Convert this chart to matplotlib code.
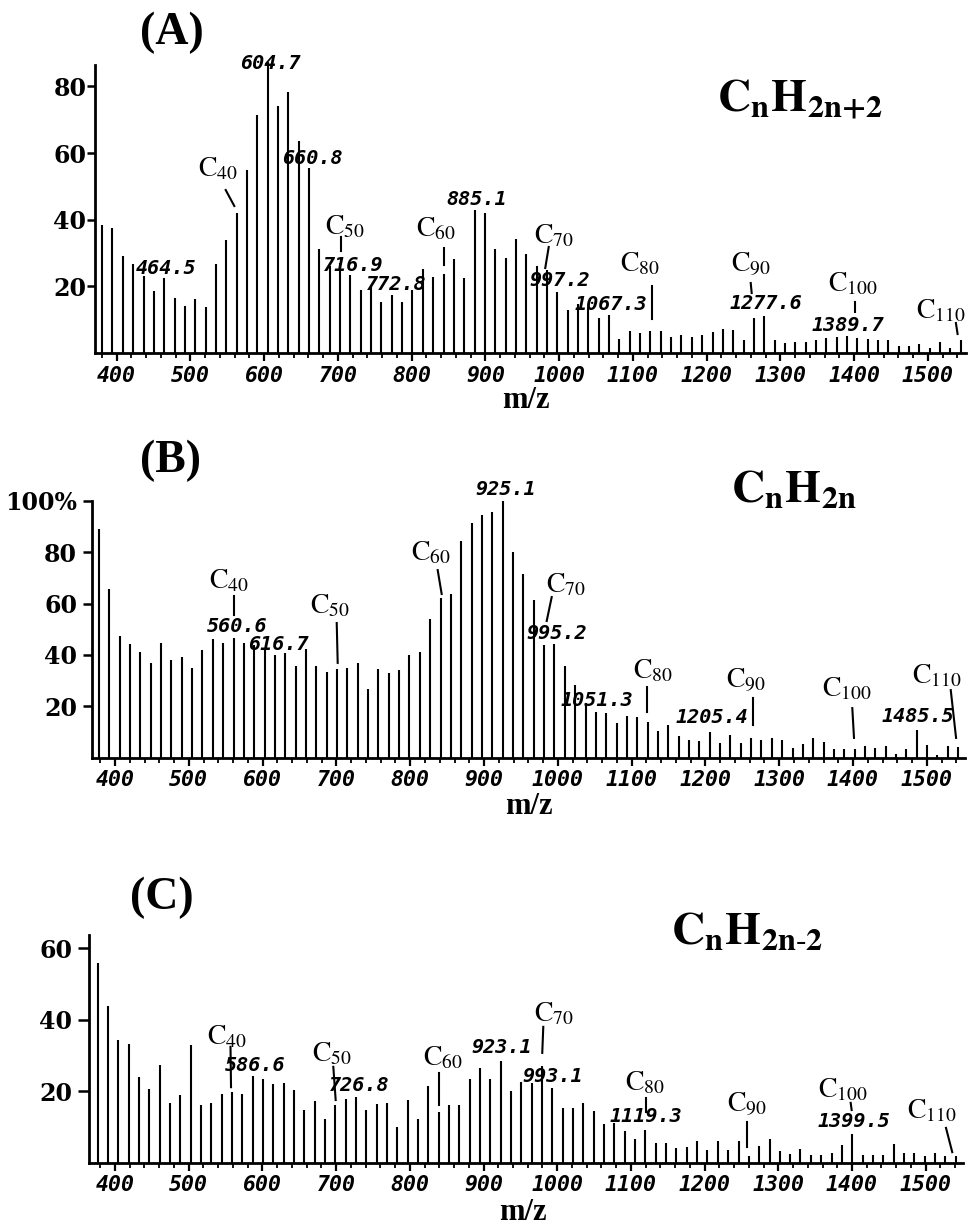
import matplotlib
matplotlib.use("Agg")
import matplotlib.pyplot as plt
from matplotlib.ticker import MultipleLocator
from matplotlib.font_manager import FontProperties

plt.rcParams['mathtext.fontset'] = 'stix'

# ---------------- data ----------------
mz_A = [380.3, 394.3, 408.4, 422.4, 436.4, 450.4, 464.5, 478.5, 492.5, 506.5,
        520.6, 534.6, 548.6, 562.7, 576.7, 590.7, 604.7, 618.8, 632.8, 646.8,
        660.8, 674.9, 688.9, 702.9, 717.0, 731.0, 745.0, 759.0, 773.1, 787.1,
        801.1, 815.1, 829.2, 843.2, 857.2, 871.2, 885.3, 899.3, 913.3, 927.3,
        941.4, 955.4, 969.4, 983.5, 997.5, 1011.5, 1025.5, 1039.6, 1053.6, 1067.6,
        1081.6, 1095.7, 1109.7, 1123.7, 1137.8, 1151.8, 1165.8, 1179.8, 1193.9, 1207.9,
        1221.9, 1235.9, 1250.0, 1264.0, 1278.0, 1292.1, 1306.1, 1320.1, 1334.1, 1348.2,
        1362.2, 1376.2, 1390.2, 1404.3, 1418.3, 1432.3, 1446.3, 1460.4, 1474.4, 1488.4,
        1502.5, 1516.5, 1530.5, 1544.5]
int_A = [38.5, 37.5, 29.0, 26.7, 23.0, 18.5, 22.5, 16.5, 14.2, 16.2,
         13.8, 26.7, 33.8, 42.0, 54.8, 71.4, 87.4, 74.2, 78.2, 63.5,
         55.5, 31.2, 26.2, 27.0, 23.3, 18.8, 20.5, 15.3, 17.3, 15.3,
         18.8, 25.2, 22.8, 23.8, 28.3, 22.6, 43.0, 42.0, 31.3, 28.6,
         34.2, 29.6, 26.0, 25.0, 18.3, 13.0, 14.8, 13.8, 10.6, 11.3,
         4.2, 6.5, 6.0, 6.5, 6.7, 4.8, 5.4, 4.8, 5.4, 6.3,
         7.2, 7.0, 4.0, 10.5, 11.2, 3.8, 3.0, 3.2, 3.4, 4.0,
         4.5, 4.8, 5.0, 4.5, 4.2, 4.0, 3.8, 2.2, 2.2, 2.6,
         1.5, 3.2, 1.5, 4.0]

mz_B = [378.2, 392.2, 406.3, 420.3, 434.3, 448.3, 462.4, 476.4, 490.4, 504.4,
        518.5, 532.5, 546.5, 560.6, 574.6, 588.6, 602.6, 616.7, 630.7, 644.7,
        658.7, 672.8, 686.8, 700.8, 714.9, 728.9, 742.9, 756.9, 771.0, 785.0,
        799.0, 813.0, 827.1, 841.1, 855.1, 869.1, 883.2, 897.2, 911.2, 925.2,
        939.3, 953.3, 967.3, 981.4, 995.4, 1009.4, 1023.4, 1037.5, 1051.5, 1065.5,
        1079.5, 1093.6, 1107.6, 1121.6, 1135.7, 1149.7, 1163.7, 1177.7, 1191.8, 1205.8,
        1219.8, 1233.8, 1247.9, 1261.9, 1275.9, 1290.0, 1304.0, 1318.0, 1332.0, 1346.1,
        1360.1, 1374.1, 1388.1, 1402.2, 1416.2, 1430.2, 1444.2, 1458.3, 1472.3, 1486.3,
        1500.4, 1514.4, 1528.4, 1542.4]
int_B = [89.1, 65.6, 47.4, 44.4, 41.2, 36.8, 44.8, 37.9, 39.0, 34.8,
         41.8, 46.2, 44.5, 46.5, 44.8, 43.9, 42.6, 40.0, 40.9, 35.5,
         42.2, 35.5, 33.5, 34.5, 35.0, 37.0, 26.9, 34.5, 32.9, 34.2,
         39.9, 41.0, 53.8, 62.0, 63.8, 84.5, 91.3, 94.5, 95.6, 100.0,
         79.9, 71.6, 61.2, 43.8, 44.3, 35.7, 28.2, 21.2, 17.7, 17.3,
         13.4, 16.4, 16.0, 14.0, 10.5, 12.6, 8.5, 7.0, 6.5, 10.0,
         5.8, 8.9, 5.8, 7.8, 7.0, 7.8, 6.8, 3.9, 5.2, 7.8,
         6.0, 3.5, 3.5, 3.2, 4.5, 3.9, 4.5, 1.5, 3.2, 10.6,
         5.0, 1.0, 4.5, 4.2]

mz_C = [376.3, 390.3, 404.4, 418.4, 432.4, 446.4, 460.5, 474.5, 488.5, 502.5,
        516.6, 530.6, 544.6, 558.7, 572.7, 586.7, 600.7, 614.8, 628.8, 642.8,
        656.8, 670.9, 684.9, 698.9, 713.0, 727.0, 741.0, 755.0, 769.1, 783.1,
        797.1, 811.1, 825.2, 839.2, 853.2, 867.2, 881.3, 895.3, 909.3, 923.3,
        937.4, 951.4, 965.4, 979.5, 993.5, 1007.5, 1021.5, 1035.6, 1049.6, 1063.6,
        1077.6, 1091.7, 1105.7, 1119.7, 1133.8, 1147.8, 1161.8, 1175.8, 1189.9, 1203.9,
        1217.9, 1231.9, 1246.0, 1260.0, 1274.0, 1288.1, 1302.1, 1316.1, 1330.1, 1344.2,
        1358.2, 1372.2, 1386.2, 1400.3, 1414.3, 1428.3, 1442.3, 1456.4, 1470.4, 1484.4,
        1498.5, 1512.5, 1526.5, 1540.5]
int_C = [55.8, 43.7, 34.3, 33.2, 23.9, 20.6, 27.3, 16.7, 18.8, 32.9,
         16.2, 16.7, 19.1, 19.7, 19.1, 24.2, 23.3, 22.0, 22.2, 20.2,
         14.8, 17.1, 12.2, 16.2, 17.9, 18.3, 14.7, 16.3, 16.6, 10.0,
         17.4, 12.3, 21.4, 14.1, 16.1, 16.0, 23.4, 26.4, 23.4, 28.4,
         20.1, 22.5, 22.3, 27.0, 20.9, 15.3, 15.3, 16.7, 14.4, 10.7,
         11.0, 8.7, 6.7, 9.0, 5.4, 5.4, 4.2, 4.4, 5.9, 3.4,
         5.9, 3.5, 6.0, 1.7, 4.7, 6.5, 3.1, 2.3, 3.7, 2.0,
         2.0, 2.8, 4.9, 7.9, 2.0, 2.0, 2.0, 5.3, 2.6, 2.6,
         1.9, 2.8, 1.9, 1.7]

xtick_vals = [400, 500, 600, 700, 800, 900, 1000, 1100, 1200, 1300, 1400, 1500]
xtick_labels = [str(v) for v in xtick_vals]

ytick_A = [20, 40, 60, 80]
ytick_B = [20, 40, 60, 80, 100]
ytick_B_labels = ['20', '40', '60', '80', '100%']
ytick_C = [20, 40, 60]

panel_labels = ['(A)', '(B)', '(C)']
formulas = [r'$\mathbf{C_{n}H_{2n{+}2}}$', r'$\mathbf{C_{n}H_{2n}}$', r'$\mathbf{C_{n}H_{2n\text{-}2}}$']

# peak labels: (text, x, y) in data coords
peaks_A = [('604.7', 609, 86.9), ('660.8', 665.5, 58.5), ('464.5', 467.5, 25.5),
           ('716.9', 720.4, 26.4), ('772.8', 778.7, 20.7), ('885.1', 888.6, 46.2),
           ('997.2', 1001.1, 21.9), ('1067.3', 1070.3, 14.7), ('1277.6', 1280.4, 15.0),
           ('1389.7', 1391.6, 8.4)]
peaks_B = [('560.6', 565.3, 51.2), ('616.7', 620.8, 43.9), ('925.1', 929.8, 104.2),
           ('995.2', 998.9, 48.5), ('1051.3', 1053.1, 22.1), ('1205.4', 1208.9, 15.8),
           ('1485.5', 1488.1, 16.2)]
peaks_C = [('586.6', 590, 27.3), ('726.8', 731.1, 21.5), ('923.1', 925.1, 32.1),
           ('993.1', 994.3, 24.2), ('1119.3', 1120.5, 13.0), ('1399.5', 1402.7, 11.6)]

# carbon-number markers: (n, text x, text y, line x1, y1, x2, y2)
cmark_A = [(40, 537.4, 55.5, 547.8, 48.9, 559.5, 44.1),
           (50, 709.6, 38.1, 703.7, 34.8, 703.7, 30.6),
           (60, 833.0, 37.5, 843.4, 31.5, 843.4, 26.4),
           (70, 993.0, 35.4, 985.8, 31.8, 981.1, 25.5),
           (80, 1109.6, 27.0, 1125.4, 20.1, 1125.4, 10.2),
           (90, 1260.1, 26.7, 1259.7, 21.0, 1261.0, 18.0),
           (100, 1398.4, 21.0, 1401.7, 15.3, 1401.7, 12.3),
           (110, 1517.7, 12.9, 1537.9, 9.0, 1540.2, 5.7)]
cmark_B = [(40, 554.4, 69.1, 561.6, 62.9, 561.6, 55.5),
           (50, 691.3, 59.4, 700.4, 52.4, 701.7, 36.9),
           (60, 828.2, 79.7, 837.2, 73.0, 842.6, 63.7),
           (70, 1011.1, 67.6, 991.7, 62.5, 984.9, 53.2),
           (80, 1129.0, 34.1, 1121.3, 27.5, 1121.3, 17.8),
           (90, 1255.0, 30.2, 1264.9, 23.2, 1264.9, 12.7),
           (100, 1391.8, 27.1, 1399.0, 19.3, 1401.3, 7.7),
           (110, 1513.8, 32.2, 1532.4, 26.3, 1539.6, 7.7)]
cmark_C = [(40, 552.0, 35.4, 556.7, 32.4, 557.4, 21.1),
           (50, 694.4, 30.7, 696.2, 26.8, 699.4, 17.5),
           (60, 845.0, 29.3, 839.6, 25.1, 839.6, 16.1),
           (70, 995.6, 41.9, 981.1, 38.0, 979.7, 30.7),
           (80, 1119.1, 22.5, 1120.0, 18.1, 1120.0, 14.1),
           (90, 1257.5, 16.4, 1257.1, 11.3, 1257.1, 4.4),
           (100, 1387.8, 20.6, 1398.2, 16.7, 1399.5, 14.7),
           (110, 1508.5, 14.7, 1527.5, 9.7, 1536.0, 2.9)]

# ---------------- layout ----------------
W, H = 968, 1228
fig = plt.figure(figsize=(W / 100, H / 100), dpi=100)

def fx(px):
    return px / W

def fy(py):
    return 1 - py / H

panels = [
    dict(mz=mz_A, inten=int_A, left=95, right=966, base=353, ppu=3.333, ytop=86.4,
         xlim=(370.6, 1551.6), yt=ytick_A, ytl=[str(v) for v in ytick_A],
         ylen=8, ypad=0.5, peaks=peaks_A, cm=cmark_A,
         lab_xy=(172, 33), form_xy=(800, 99), mz_xy=(526, 401)),
    dict(mz=mz_B, inten=int_B, left=91.7, right=965, base=757.7, ppu=2.57, ytop=100,
         xlim=(368.4, 1551.7), yt=ytick_B, ytl=ytick_B_labels,
         ylen=9, ypad=4, peaks=peaks_B, cm=cmark_B,
         lab_xy=(171, 461), form_xy=(794, 490), mz_xy=(529, 807)),
    dict(mz=mz_C, inten=int_C, left=89, right=963.3, base=1162.5, ppu=3.57, ytop=63.7,
         xlim=(364.7, 1551.0), yt=ytick_C, ytl=[str(v) for v in ytick_C],
         ylen=11, ypad=4, peaks=peaks_C, cm=cmark_C,
         lab_xy=(162, 898), form_xy=(747, 932), mz_xy=(523, 1213)),
]

xtick_fp = FontProperties(family='DejaVu Sans Mono', weight='bold', style='oblique', size=15.5)
ytick_fp = FontProperties(family='DejaVu Serif', weight='bold', size=17)
peak_fp = FontProperties(family='DejaVu Sans Mono', weight='bold', style='oblique', size=14.5)

for i, p in enumerate(panels):
    hpx = p['ytop'] * p['ppu']
    ax = fig.add_axes([fx(p['left']), fy(p['base']), fx(p['right'] - p['left']), hpx / H])
    ax.vlines(p['mz'], 0, p['inten'], colors='black', linewidth=1.5, clip_on=False)
    ax.set_xlim(*p['xlim'])
    ax.set_ylim(0, p['ytop'])
    for s in ['top', 'right']:
        ax.spines[s].set_visible(False)
    for s in ['left', 'bottom']:
        ax.spines[s].set_linewidth(2.0)
    ax.set_xticks(xtick_vals)
    ax.set_xticklabels(xtick_labels, fontproperties=xtick_fp)
    ax.xaxis.set_minor_locator(MultipleLocator(20))
    ax.set_yticks(p['yt'])
    ax.set_yticklabels(p['ytl'], fontproperties=ytick_fp)
    ax.tick_params(axis='x', which='major', direction='out', length=6, width=1.6, pad=3)
    ax.tick_params(axis='x', which='minor', direction='out', length=3.5, width=1.3)
    ax.tick_params(axis='y', which='major', direction='out', length=p['ylen'] * 0.72,
                   width=1.8, pad=p['ypad'])

    for txt, x, y in p['peaks']:
        ax.text(x, y, txt, ha='center', va='center', fontproperties=peak_fp, color='black')
    for n, tx, ty, x1, y1, x2, y2 in p['cm']:
        ax.text(tx, ty, r'$\mathrm{C}_{%d}$' % n, ha='center', va='center',
                fontsize=20, color='black')
        ax.plot([x1, x2], [y1, y2], color='black', linewidth=1.5, clip_on=False)

    fig.text(fx(p['lab_xy'][0]), fy(p['lab_xy'][1]), panel_labels[i], ha='center',
             va='center', family='Liberation Serif', weight='bold', size=33)
    fig.text(fx(p['form_xy'][0]), fy(p['form_xy'][1]), formulas[i], ha='center',
             va='center', size=33)
    fig.text(fx(p['mz_xy'][0]), fy(p['mz_xy'][1]), 'm/z', ha='center', va='center',
             family='Liberation Serif', weight='bold', size=22)

fig.savefig('out.png', dpi=100)
